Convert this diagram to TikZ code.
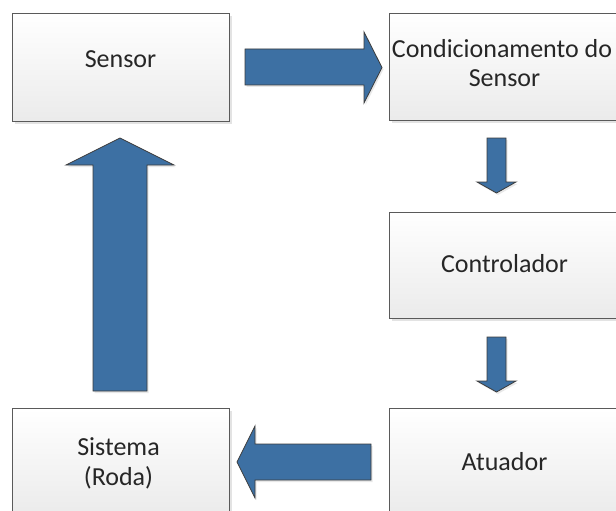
\documentclass[tikz,border=0pt]{standalone}
\usepackage{fontspec}
\setmainfont{Carlito}
\usetikzlibrary{shadows}
\definecolor{arrowblue}{RGB}{61,112,163}
\definecolor{boxline}{RGB}{90,90,90}
\definecolor{arrowline}{RGB}{60,60,60}
\begin{document}
\begin{tikzpicture}[x=1pt,y=-1pt,
  blockbox/.style={draw=boxline, line width=1.2pt, top color=white, bottom color=black!8,
    inner sep=0pt, anchor=north west,
    drop shadow={opacity=0.22, shadow xshift=2pt, shadow yshift=-2.5pt}},
  boxtext/.style={font=\fontsize{26}{30}\selectfont, text=black!85, inner sep=0pt, anchor=base},
  bigarrow/.style={fill=arrowblue, draw=arrowline, line width=0.8pt, line join=miter,
    drop shadow={opacity=0.18, shadow xshift=1.5pt, shadow yshift=-2pt}}]
\useasboundingbox (0,0) rectangle (616,511);
\clip (0,0) rectangle (616,511);
% boxes
\node[blockbox, minimum width=217pt, minimum height=108pt] (sensorbox) at (12,13) {};
\node[blockbox, minimum width=231pt, minimum height=107pt] (condbox) at (389,13) {};
\node[blockbox, minimum width=231pt, minimum height=106pt] (ctrlbox) at (389,212) {};
\node[blockbox, minimum width=231pt, minimum height=108pt] (atuabox) at (389,408) {};
\node[blockbox, minimum width=217pt, minimum height=108pt] (sistbox) at (12,408) {};
% texts
\node[boxtext] (sensortxt) at (120.5,67) {Sensor};
\node[boxtext] (condtxta) at (502,58) {Condicionamento do};
\node[boxtext] (condtxtb) at (504.5,87) {Sensor};
\node[boxtext] (ctrltxt) at (504.5,272) {Controlador};
\node[boxtext] (atuatxt) at (504.5,470) {Atuador};
\node[boxtext] (sisttxta) at (118.5,455) {Sistema};
\node[boxtext] (sisttxtb) at (118.5,485) {(Roda)};
% block arrows
\draw[bigarrow] (245,49) -- (364,49) -- (364,32) -- (382,67.5) -- (364,103) -- (364,85) -- (245,85) -- cycle;
\draw[bigarrow] (487,138) -- (506,138) -- (506,182) -- (516,182) -- (496.5,193) -- (477,182) -- (487,182) -- cycle;
\draw[bigarrow] (487,337) -- (506,337) -- (506,381) -- (516,381) -- (496.5,392) -- (477,381) -- (487,381) -- cycle;
\draw[bigarrow] (371,444) -- (255,444) -- (255,426) -- (237,462) -- (255,498) -- (255,480) -- (371,480) -- cycle;
\draw[bigarrow] (93,391) -- (93,165) -- (66,165) -- (120,138) -- (174,165) -- (147,165) -- (147,391) -- cycle;
\end{tikzpicture}
\end{document}
